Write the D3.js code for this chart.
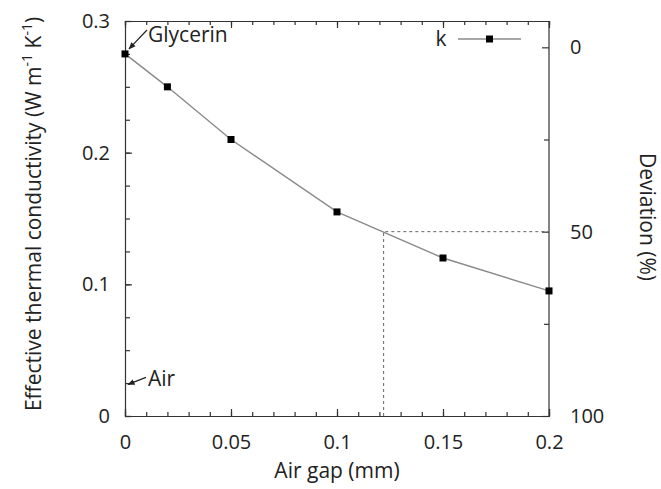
<!DOCTYPE html>
<html>
<head>
<meta charset="utf-8">
<script src="https://cdn.jsdelivr.net/npm/d3@7"></script>
<style>
  body { margin: 0; background: #fff; }
  text { font-family: "Open Sans", "DejaVu Sans", sans-serif; fill: #222; }
</style>
</head>
<body>
<div id="wrapper"></div>
<script>
// data
const airGap = [0, 0.02, 0.05, 0.1, 0.15, 0.2];           // mm
const kValues = [0.275, 0.25, 0.21, 0.155, 0.12, 0.095];  // W m-1 K-1
const xTicks = [0, 0.05, 0.1, 0.15, 0.2];
const yTicks = [0, 0.1, 0.2, 0.3];
const devTicks = [0, 50, 100];
const guideDeviation = 50;   // %
const guideGap = 0.122;      // mm, where k drops by 50 %
const airK = 0.024;
const glycerinK = 0.275;

function buildPlot() {
    const dimension = {
        width: 661,
        height: 489,
        margin: { top: 21, left: 125, bottom: 73, right: 112 }
    };
    dimension.boundedWidth = dimension.width - dimension.margin.left - dimension.margin.right;
    dimension.boundedHeight = dimension.height - dimension.margin.top - dimension.margin.bottom;

    const svg = d3.select("#wrapper").append("svg")
        .attr("width", dimension.width)
        .attr("height", dimension.height);

    const bounded = svg.append("g")
        .attr("transform", `translate(${dimension.margin.left},${dimension.margin.top})`);

    const xScaler = d3.scaleLinear().domain([0, 0.2]).range([0, dimension.boundedWidth]);
    const yScaler = d3.scaleLinear().domain([0, 0.3]).range([dimension.boundedHeight, 0]);
    // deviation axis: 0 % at ~0.28, 100 % at 0
    const devScaler = d3.scaleLinear().domain([0, 100]).range([yScaler(0.28), yScaler(0)]);

    const axisColor = "#333";
    const tickFont = "20px";
    const titleFont = "21px";

    // minor ticks
    const xMinor = d3.range(0, 0.2001, 0.01);
    const yMinor = d3.range(0, 0.3001, 0.025);

    // bottom axis
    bounded.append("g")
        .attr("transform", `translate(0,${dimension.boundedHeight})`)
        .call(d3.axisBottom(xScaler).tickValues(xMinor).tickSize(-4).tickFormat(""))
        .call(g => g.select(".domain").remove());
    const xAxis = bounded.append("g")
        .attr("transform", `translate(0,${dimension.boundedHeight})`)
        .call(d3.axisBottom(xScaler).tickValues(xTicks).tickSize(-7).tickPadding(19)
            .tickFormat(d => d3.format("")(+d.toFixed(2))));
    xAxis.selectAll("text").style("font-size", tickFont).attr("fill", "#222");

    // top axis (mirror)
    bounded.append("g")
        .call(d3.axisTop(xScaler).tickValues(xMinor).tickSize(-4).tickFormat(""));
    bounded.append("g")
        .call(d3.axisTop(xScaler).tickValues(xTicks).tickSize(-7).tickFormat(""))
        .call(g => g.select(".domain").remove());

    // left axis
    bounded.append("g")
        .call(d3.axisLeft(yScaler).tickValues(yMinor).tickSize(-5).tickFormat(""))
        .call(g => g.select(".domain").remove());
    const yAxis = bounded.append("g")
        .call(d3.axisLeft(yScaler).tickValues(yTicks).tickSize(-7).tickPadding(15)
            .tickFormat(d => d3.format("")(+d.toFixed(1))));
    yAxis.selectAll("text").style("font-size", tickFont).attr("fill", "#222");

    // right axis (deviation)
    bounded.append("g")
        .attr("transform", `translate(${dimension.boundedWidth},0)`)
        .call(d3.axisRight(devScaler).tickValues([25, 75]).tickSize(-5).tickFormat(""))
        .call(g => g.select(".domain").remove());
    const devAxis = bounded.append("g")
        .attr("transform", `translate(${dimension.boundedWidth},0)`)
        .call(d3.axisRight(devScaler).tickValues(devTicks).tickSize(-7).tickPadding(21));
    devAxis.select(".domain").attr("d", `M0,0V${dimension.boundedHeight}`);
    devAxis.selectAll("text").style("font-size", tickFont).attr("fill", "#222");

    bounded.selectAll(".domain, .tick line").attr("stroke", axisColor).attr("stroke-width", 1.2);

    // guide lines at 50 % deviation
    bounded.append("path")
        .attr("d", `M${xScaler(guideGap)},${dimension.boundedHeight}V${devScaler(guideDeviation)}H${dimension.boundedWidth}`)
        .attr("fill", "none")
        .attr("stroke", "#666")
        .attr("stroke-width", 1)
        .attr("stroke-dasharray", "3,3");

    // k line
    const points = airGap.map((g, i) => ({ x: g, k: kValues[i] }));
    const kLine = d3.line().x(d => xScaler(d.x)).y(d => yScaler(d.k));

    bounded.append("path")
        .attr("d", kLine(points))
        .attr("fill", "none")
        .attr("stroke", "#8a8a8a")
        .attr("stroke-width", 1.4);

    bounded.selectAll("rect.pt")
        .data(points)
        .join("rect")
        .attr("class", "pt")
        .attr("x", d => xScaler(d.x) - 3.5)
        .attr("y", d => yScaler(d.k) - 3.5)
        .attr("width", 7)
        .attr("height", 7)
        .attr("fill", "#000");

    // annotations
    svg.append("defs").append("marker")
        .attr("id", "arrow")
        .attr("viewBox", "0 0 10 10")
        .attr("refX", 9).attr("refY", 5)
        .attr("markerWidth", 6).attr("markerHeight", 6)
        .attr("orient", "auto")
        .append("path").attr("d", "M0,1L10,5L0,9z").attr("fill", "#222");

    bounded.append("line")
        .attr("x1", 22).attr("y1", 9)
        .attr("x2", xScaler(0) + 4).attr("y2", yScaler(glycerinK) - 5)
        .attr("stroke", "#222").attr("stroke-width", 1.2)
        .attr("marker-end", "url(#arrow)");
    bounded.append("text")
        .attr("x", 23).attr("y", 21)
        .style("font-size", titleFont)
        .text("Glycerin");

    bounded.append("line")
        .attr("x1", 21).attr("y1", yScaler(airK) - 7)
        .attr("x2", xScaler(0) + 3).attr("y2", yScaler(airK))
        .attr("stroke", "#222").attr("stroke-width", 1.2)
        .attr("marker-end", "url(#arrow)");
    bounded.append("text")
        .attr("x", 23).attr("y", yScaler(airK) + 2)
        .style("font-size", titleFont)
        .text("Air");

    // legend
    const legend = bounded.append("g").attr("transform", "translate(333,18)");
    legend.append("text")
        .attr("x", -17).attr("y", 7)
        .attr("text-anchor", "middle")
        .style("font-size", titleFont)
        .text("k");
    legend.append("line")
        .attr("x1", 0).attr("x2", 63)
        .attr("stroke", "#8a8a8a").attr("stroke-width", 1.4);
    legend.append("rect")
        .attr("x", 31.5 - 3.5).attr("y", -3.5)
        .attr("width", 7).attr("height", 7)
        .attr("fill", "#000");

    // axis titles
    svg.append("text")
        .attr("x", dimension.margin.left + dimension.boundedWidth / 2)
        .attr("y", 478)
        .attr("text-anchor", "middle")
        .style("font-size", titleFont)
        .text("Air gap (mm)");

    const yTitle = svg.append("text")
        .attr("transform", `translate(41,${dimension.margin.top + 193}) rotate(-90)`)
        .attr("text-anchor", "middle")
        .style("font-size", titleFont);
    yTitle.append("tspan").text("Effective thermal conductivity (W m");
    yTitle.append("tspan").attr("dy", -9).style("font-size", "14px").text("-1");
    yTitle.append("tspan").attr("dy", 9).text(" K");
    yTitle.append("tspan").attr("dy", -9).style("font-size", "14px").text("-1");
    yTitle.append("tspan").attr("dy", 9).text(")");

    svg.append("text")
        .attr("transform", `translate(640,217) rotate(90)`)
        .attr("text-anchor", "middle")
        .style("font-size", titleFont)
        .text("Deviation (%)");
}

buildPlot();
</script>
</body>
</html>
